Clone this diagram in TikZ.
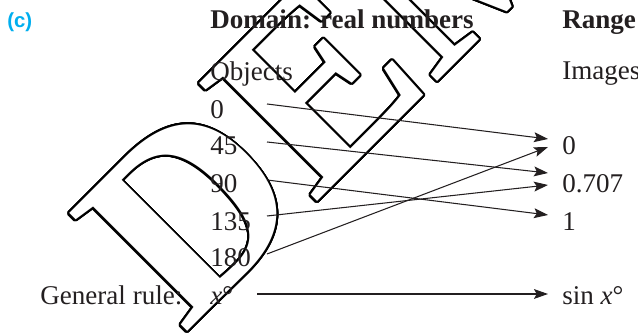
\documentclass[tikz,border=0pt]{standalone}
\usepackage{fontspec}
\setmainfont{Liberation Serif}
\setsansfont{Liberation Sans}
\usepackage{contour}
\contournumber{32}
\contourlength{1.1pt}
\usetikzlibrary{arrows.meta,positioning,calc}
\definecolor{tinta}{RGB}{35,31,32}
\definecolor{cian}{RGB}{0,174,239}

\begin{document}
\begin{tikzpicture}[x=0.02cm, y=-0.02cm,
    texto/.style={anchor=base west, inner sep=0pt, text=tinta, font=\fontsize{15.4}{18}\selectfont},
    titulo/.style={texto, font=\fontsize{15.4}{18}\selectfont\bfseries},
    flecha/.style={-{Stealth[length=8pt, width=5.6pt, inset=1.6pt]}, line width=0.6pt, draw=tinta}]
            \useasboundingbox (0,0) rectangle (638,333);

            % Marca de agua
            \node[rotate=45, anchor=base west, inner sep=0pt, text=white, font=\fontsize{145}{150}\selectfont\bfseries] (marca) at (184,335) {\contour{black}{DEMO}};

            % Encabezados
            \node[anchor=west, inner sep=0pt, text=cian, font=\sffamily\bfseries\fontsize{11.6}{14}\selectfont] (letra) at (7,22) {(c)};
            \node[titulo] (dominio) at (210,29) {Domain: real numbers};
            \node[titulo] (rango) at (562,29) {Range};
            \node[texto] (objetos) at (210,81) {Objects};
            \node[texto] (imagenes) at (562,80) {Images};

            % Objetos
            \node[texto] (o0) at (210,119) {0};
            \node[texto] (o1) at (210,155) {45};
            \node[texto] (o2) at (210,193) {90};
            \node[texto] (o3) at (210,231) {135};
            \node[texto] (o4) at (210,267) {180};
            \node[texto] (regla) at (40,305) {General rule:};
            \node[texto] (ox) at (210,305) {\textit{x}°};

            % Imagenes
            \node[texto] (i0) at (562,155) {0};
            \node[texto] (i1) at (562,193) {0.707};
            \node[texto] (i2) at (562,231) {1};
            \node[texto] (isin) at (562,305) {sin \textit{x}°};

            % Flechas
            \coordinate (salida) at (267,0);
            \coordinate (llegada) at (548,0);
            \draw[flecha] ($(salida |- o0.base)+(0,-15)$) -- ($(llegada |- i0.base)+(0,-16)$);
            \draw[flecha] ($(salida |- o1.base)+(0,-13)$) -- ($(llegada |- i1.base)+(0,-20)$);
            \draw[flecha] ($(salida |- o2.base)+(0,-13)$) -- ($(llegada |- i2.base)+(0,-16)$);
            \draw[flecha] ($(salida |- o3.base)+(0,-15)$) -- ($(llegada |- i1.base)+(0,-8)$);
            \draw[flecha] ($(salida |- o4.base)+(0,-13)$) -- ($(llegada |- i0.base)+(0,-8)$);
            \draw[flecha] ($(salida |- ox.base)+(-10,-11)$) -- ($(llegada |- isin.base)+(0,-11)$);
\end{tikzpicture}
\end{document}
